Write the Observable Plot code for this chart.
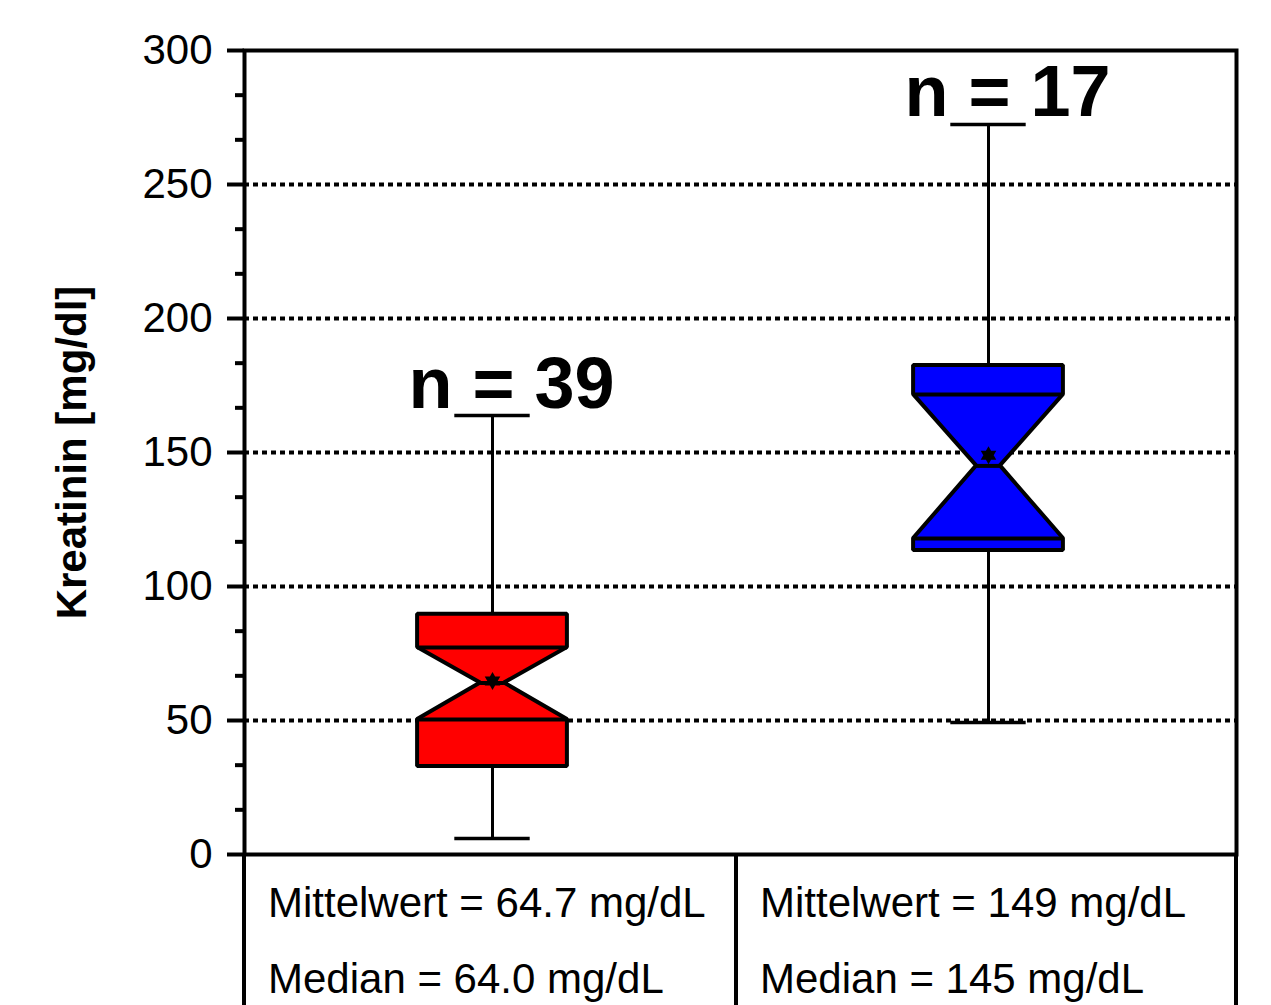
<!DOCTYPE html>
<html><head><meta charset="utf-8">
<script src="https://cdn.jsdelivr.net/npm/d3@7"></script>
<script src="https://cdn.jsdelivr.net/npm/@observablehq/plot@0.6"></script>
<style>
body{margin:0;background:#fff;}
#wrap{position:relative;width:1271px;height:1005px;overflow:hidden;font-family:"Liberation Sans",Arial,sans-serif;background:#fff;}
#chart{position:absolute;left:0;top:0;}
.vl{position:absolute;top:853px;height:160px;width:4px;background:#000;}
.cell{position:absolute;font-size:42px;line-height:42px;white-space:nowrap;color:#000;}
</style></head><body>
<div id="wrap"><div id="chart"></div><div id="table"></div></div>
<script>
// ---- data ----
const groups = ["Gruppe 1", "Gruppe 2"];
const fillColors = ["#ff0000", "#0000ff"];
const nCounts = [39, 17];
const whiskerLow = [6, 49.3];
const q1 = [32.8, 113.4];
const notchLo = [50.4, 117.9];
const medians = [64.0, 145];
const notchHi = [77.2, 171.6];
const q3 = [89.6, 182.5];
const whiskerHigh = [163.8, 272.4];
const means = [64.7, 149];
const yTicks = [0, 50, 100, 150, 200, 250, 300];
const gridLines = [50, 100, 150, 200, 250];
const yLabel = "Kreatinin [mg/dl]";

// ---- styling constants ----
const hw = 0.151, nw = 0.024, cw = 0.076;
const minorTicks = d3.range(0, 300, 50 / 3).filter((v, i) => i % 3 !== 0);

const boxes = groups.map((g, i) => ({
  g, c: i + 0.5, fc: fillColors[i], n: nCounts[i], lo: whiskerLow[i], q1: q1[i],
  nlo: notchLo[i], med: medians[i], nhi: notchHi[i], q3: q3[i], hi: whiskerHigh[i], mean: means[i]
}));
const outline = boxes.flatMap(b => [[b.q1, hw], [b.nlo, hw], [b.med, nw], [b.nhi, hw], [b.q3, hw]]
  .map(([y, w]) => ({g: b.g, fc: b.fc, y, x1: b.c - w, x2: b.c + w})));

const hexagram = {
  draw(ctx, size) {
    const r = Math.sqrt(size / Math.PI);
    for (const off of [-Math.PI / 2, Math.PI / 2]) {
      for (let k = 0; k < 3; k++) {
        const a = off + k * 2 * Math.PI / 3;
        const px = r * Math.cos(a), py = r * Math.sin(a);
        if (k === 0) ctx.moveTo(px, py); else ctx.lineTo(px, py);
      }
      ctx.closePath();
    }
  }
};

const plot = Plot.plot({
  width: 1271, height: 890,
  marginTop: 50, marginBottom: 36, marginLeft: 244, marginRight: 35,
  style: {fontFamily: "'Liberation Sans', Arial, sans-serif", background: "white"},
  x: {type: "linear", domain: [0, groups.length], axis: null},
  y: {domain: [0, 300], axis: null},
  color: {type: "identity"},
  marks: [
    Plot.ruleY(gridLines, {stroke: "black", strokeWidth: 4, strokeDasharray: "5,4"}),
    Plot.ruleX(boxes, {x: "c", y1: "q3", y2: "hi", stroke: "black", strokeWidth: 3}),
    Plot.ruleX(boxes, {x: "c", y1: "lo", y2: "q1", stroke: "black", strokeWidth: 3}),
    Plot.ruleY(boxes, {y: "hi", x1: d => d.c - cw, x2: d => d.c + cw, stroke: "black", strokeWidth: 3.5}),
    Plot.ruleY(boxes, {y: "lo", x1: d => d.c - cw, x2: d => d.c + cw, stroke: "black", strokeWidth: 3.5}),
    Plot.areaX(outline, {y: "y", x1: "x1", x2: "x2", z: "g", fill: d => d.fc, stroke: "black", strokeWidth: 4, strokeLinejoin: "miter"}),
    Plot.ruleY(boxes, {y: "nlo", x1: d => d.c - hw, x2: d => d.c + hw, stroke: "black", strokeWidth: 4}),
    Plot.ruleY(boxes, {y: "nhi", x1: d => d.c - hw, x2: d => d.c + hw, stroke: "black", strokeWidth: 4}),
    Plot.ruleY(boxes, {y: "med", x1: d => d.c - nw, x2: d => d.c + nw, stroke: "black", strokeWidth: 4}),
    Plot.dot(boxes, {x: "c", y: "mean", symbol: hexagram, r: 9, fill: "black", stroke: "none"}),
    Plot.text(boxes, {x: "c", y: "hi", text: d => `n = ${d.n}`, fontSize: 72, fontWeight: "bold", dx: 19, dy: -8, lineAnchor: "bottom", fill: "black"}),
    Plot.frame({stroke: "black", strokeWidth: 4}),
    Plot.axisY(yTicks, {tickSize: 17, tickPadding: 15, strokeWidth: 4, fontSize: 42, label: null, fill: "black"}),
    Plot.axisY(minorTicks, {tickSize: 9, text: null, strokeWidth: 4, label: null}),
    Plot.text([yLabel], {frameAnchor: "left", rotate: -90, dx: -172, fontSize: 42, fontWeight: "bold", textAnchor: "middle", fill: "black"})
  ]
});
document.getElementById("chart").appendChild(plot);

// ---- statistics table below the chart ----
const xs = plot.scale("x");
const fmt = d3.format(".3r");
const table = document.getElementById("table");
const edges = d3.range(groups.length + 1).map(i => xs.apply(i) - (i > 0 && i < groups.length ? 4 : 0));
edges.forEach(e => {
  const d = document.createElement("div");
  d.className = "vl";
  d.style.left = (e - 2) + "px";
  table.appendChild(d);
});
groups.forEach((g, i) => {
  [[`Mittelwert = ${fmt(means[i])} mg/dL`, 882], [`Median = ${fmt(medians[i])} mg/dL`, 958]].forEach(([t, top]) => {
    const s = document.createElement("div");
    s.className = "cell";
    s.style.left = (edges[i] + 24) + "px";
    s.style.top = top + "px";
    s.textContent = t;
    table.appendChild(s);
  });
});
</script>
</body></html>
